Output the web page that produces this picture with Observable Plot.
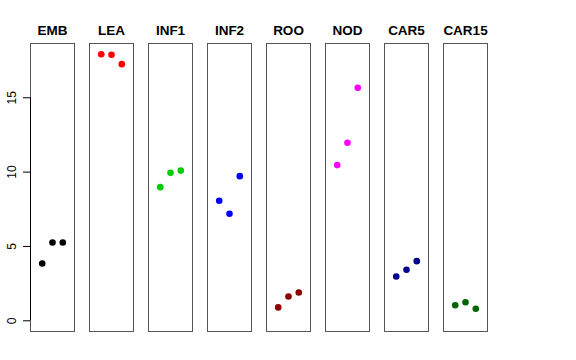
<!DOCTYPE html>
<html><head><meta charset="utf-8">
<script src="https://cdn.jsdelivr.net/npm/d3@7"></script>
<script src="https://cdn.jsdelivr.net/npm/@observablehq/plot@0.6"></script>
<style>body{margin:0;background:#fff}</style>
</head><body><div id="chart"></div>
<script>
const groups = ["EMB","LEA","INF1","INF2","ROO","NOD","CAR5","CAR15"];
const colors = ["#000000","#FF0000","#00CD00","#0000FF","#8B0000","#FF00FF","#00008B","#006400"];
const rep = [1, 2, 3];
const EMB = [3.85, 5.27, 5.27];
const LEA = [17.93, 17.89, 17.26];
const INF1 = [8.99, 9.95, 10.1];
const INF2 = [8.07, 7.2, 9.73];
const ROO = [0.9, 1.63, 1.9];
const NOD = [10.47, 11.97, 15.67];
const CAR5 = [2.98, 3.43, 4.01];
const CAR15 = [1.05, 1.25, 0.81];
const yTicks = [0, 5, 10, 15];
const xDomain = [-0.14, 4.14];
const yDomain = [-0.72, 18.65];

const series = [EMB, LEA, INF1, INF2, ROO, NOD, CAR5, CAR15];
const data = [];
groups.forEach((g, i) => series[i].forEach((v, j) => data.push({group: g, rep: rep[j], value: v})));

const font = "'Liberation Sans', Arial, Helvetica, sans-serif";
const chart = Plot.plot({
  width: 576, height: 360,
  marginLeft: 29, marginRight: 88, marginTop: 43, marginBottom: 29,
  style: {fontFamily: font, background: "#fff", color: "#000"},
  fx: {domain: groups, paddingInner: 0.248, paddingOuter: 0, label: null},
  x: {domain: xDomain, axis: null},
  y: {domain: yDomain, axis: null},
  color: {domain: groups, range: colors},
  marks: [
    Plot.frame({stroke: "#555", strokeWidth: 1}),
    Plot.dot(data, {fx: "group", x: "rep", y: "value", fill: "group", r: 3.3}),
    Plot.axisFx({anchor: "top", tickSize: 0, tickPadding: 9, fontSize: 13.5, fontWeight: "bold", label: null}),
    Plot.axisY({ticks: yTicks, tickSize: 7, tickPadding: 8, tickRotate: -90, fontSize: 12, label: null, stroke: "#000"}),
    Plot.ruleX([yTicks[0]], {fx: () => groups[0], x: () => xDomain[0], y1: yTicks[0], y2: yTicks[yTicks.length - 1], stroke: "#000"})
  ]
});
document.getElementById("chart").appendChild(chart);
</script>
</body></html>
